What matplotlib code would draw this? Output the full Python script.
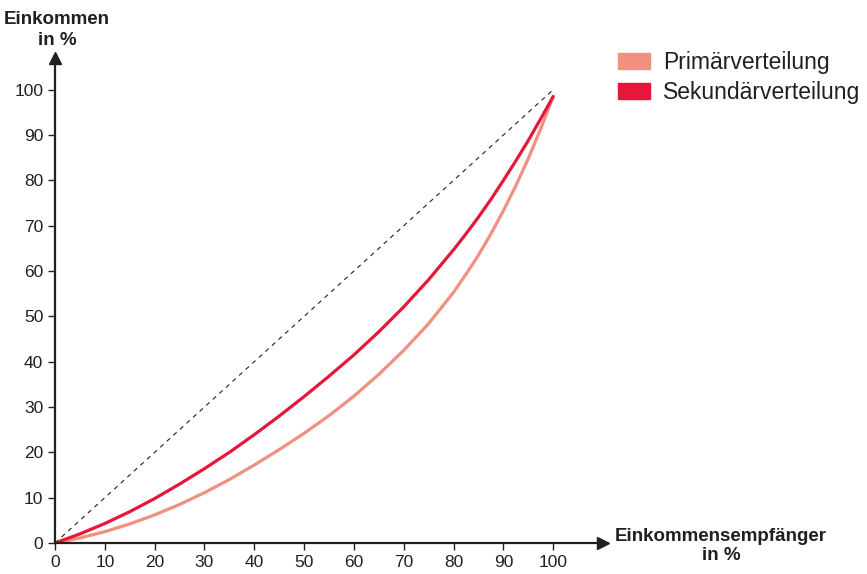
import matplotlib.pyplot as plt
from matplotlib.patches import Patch

# Lorenz curves, values
empfaenger = [0, 5, 10, 15, 20, 25, 30, 35, 40, 45, 50, 55, 60, 65, 70, 75, 80,
              82.5, 85, 87.5, 90, 92.5, 95, 97.5, 100]
primaer = [0, 1.1, 2.5, 4.2, 6.2, 8.5, 11.1, 14.0, 17.2, 20.6, 24.2, 28.1, 32.4, 37.2, 42.5,
           48.4, 55.3, 59.3, 63.5, 68.2, 73.3, 78.8, 84.8, 91.4, 98.5]
sekundaer = [0, 2.0, 4.3, 6.9, 9.8, 13.0, 16.4, 20.0, 23.9, 28.0, 32.3, 36.8, 41.5, 46.6,
             52.1, 58.1, 64.7, 68.2, 71.9, 75.8, 80.0, 84.3, 88.8, 93.6, 98.5]
gleich = [0, 100]
ticks = [0, 10, 20, 30, 40, 50, 60, 70, 80, 90, 100]

c_prim = '#f0907f'
c_sek = '#e5173a'
c_text = '#231f20'

plt.rcParams['font.family'] = ['Liberation Sans', 'DejaVu Sans']

fig = plt.figure(figsize=(8.67, 5.74), dpi=100)
ax = fig.add_axes([55 / 867, 31 / 574, 548 / 867, 485 / 574])

ax.plot(gleich, gleich, color=c_text, lw=0.8, ls=(0, (4, 4)))
ax.plot(empfaenger, primaer, color=c_prim, lw=2.3, solid_capstyle='round', solid_joinstyle='round')
ax.plot(empfaenger, sekundaer, color=c_sek, lw=2.3, solid_capstyle='round', solid_joinstyle='round')

ax.set_xlim(0, 110)
ax.set_ylim(0, 107)
ax.set_xticks(ticks)
ax.set_yticks(ticks)
ax.tick_params(colors=c_text, labelsize=12.5, length=5, width=1)
for s in ['top', 'right']:
    ax.spines[s].set_visible(False)
for s in ['left', 'bottom']:
    ax.spines[s].set_linewidth(1.6)
    ax.spines[s].set_color(c_text)

# arrow heads
ax.plot(1, 0, '>', color=c_text, ms=9, transform=ax.get_yaxis_transform(), clip_on=False)
ax.plot(0, 1, '^', color=c_text, ms=9, transform=ax.get_xaxis_transform(), clip_on=False)

fig.text(57 / 867, 1 - 30 / 574, 'Einkommen\nin %', ha='center', va='center',
         fontsize=13.5, fontweight='bold', color=c_text, linespacing=1.25)
fig.text(721 / 867, 1 - 546 / 574, 'Einkommensempfänger\nin %', ha='center', va='center',
         fontsize=13.5, fontweight='bold', color=c_text, linespacing=1.2)

handles = [Patch(color=c_prim, label='Primärverteilung'),
           Patch(color=c_sek, label='Sekundärverteilung')]
fig.legend(handles=handles, loc='upper left', bbox_to_anchor=(618 / 867, 1 - 51 / 574),
           frameon=False, fontsize=16.5, handlelength=1.4, handleheight=0.7,
           handletextpad=0.57, labelspacing=0.3, borderpad=0, borderaxespad=0,
           labelcolor=c_text)

plt.savefig('out.png', dpi=100)
